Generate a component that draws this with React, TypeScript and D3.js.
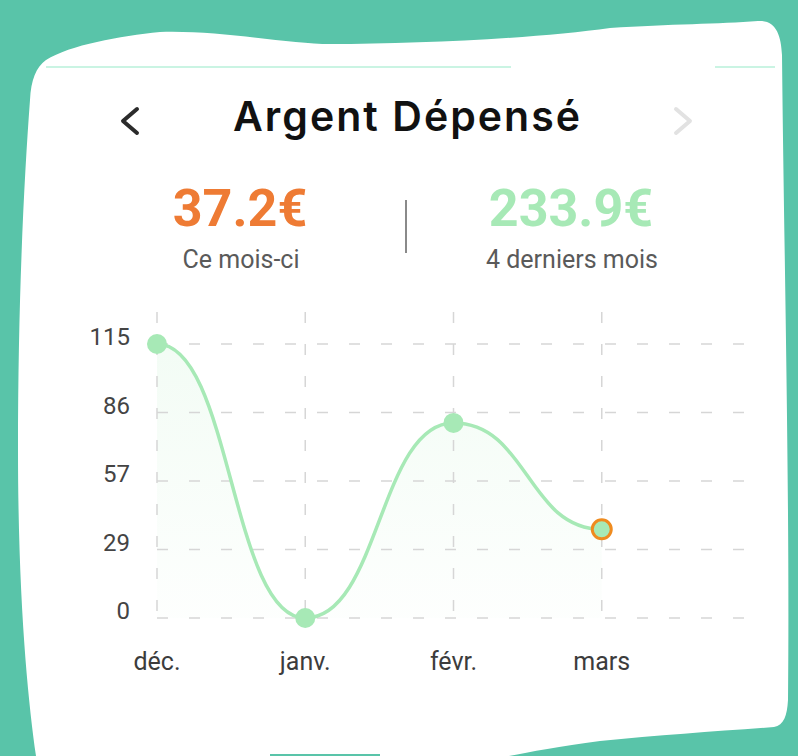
import * as d3 from 'd3';
import React, {useEffect} from 'react';

// months shown on the x axis and money spent for each of them
const months = ["déc.", "janv.", "févr.", "mars"];
const spent = [114.9, 0, 81.8, 37.2];
const slotCount = 5; // one empty slot after the last month
const tickCount = 5;

const W = 798;
const H = 756;

const green = "#a7e9b6";
const orange = "#ee7b34";

export default function App() {
  useEffect(() => {
    document.body.style.margin = "0";
  }, []);

  const x = d3.scaleLinear().domain([0, slotCount - 1]).range([157, 750]);
  const yMax = d3.max(spent) || 1;
  const y = d3.scaleLinear().domain([0, yMax]).range([618, 344]);
  const yTicks = d3.range(tickCount).map(i => (yMax * i) / (tickCount - 1));

  const line = d3.line<number>()
    .x((_, i) => x(i))
    .y(d => y(d))
    .curve(d3.curveBumpX);

  const area = d3.area<number>()
    .x((_, i) => x(i))
    .y0(y(0))
    .y1(d => y(d))
    .curve(d3.curveBumpX);

  const current = spent[spent.length - 1];
  const total = d3.sum(spent);

  // wavy card outline
  const card = "M46,60 C70,45 120,36 160,32 C220,30 290,44 330,44 C420,44 540,38 610,28 C670,24 720,24 758,21 C776,20 781,35 782,55 C784,250 790,500 788,700 C787,716 784,725 774,727 C720,731 660,735 600,741 C560,746 530,752 509,756 L36,756 C28,700 18,600 18,450 C18,300 24,180 30,100 C31,80 36,67 46,60 Z";

  return (
    <svg width={W} height={H} style={{position: "absolute", top: 0, left: 0, display: "block"}}>
      <defs>
        <linearGradient id="areaFill" x1="0" y1="0" x2="0" y2="1">
          <stop offset="0%" stopColor={green} stopOpacity={0.14} />
          <stop offset="100%" stopColor={green} stopOpacity={0.02} />
        </linearGradient>
      </defs>
      <rect width={W} height={H} fill="#59c4a9" />
      <path d={card} fill="#ffffff" />
      <rect x={270} y={754} width={110} height={2} fill="#59c4a9" />
      <line x1={46} x2={511} y1={67} y2={67} stroke="#b9f0da" strokeWidth={1.5} />
      <line x1={715} x2={775} y1={67} y2={67} stroke="#b9f0da" strokeWidth={1.5} />

      {/* header */}
      <path d="M137,109 L123,121 L137,133" fill="none" stroke="#2b2b2b" strokeWidth={4} strokeLinecap="round" strokeLinejoin="round" />
      <path d="M676,109 L690,121 L676,133" fill="none" stroke="#e2e2e2" strokeWidth={4} strokeLinecap="round" strokeLinejoin="round" />
      <text x={233} y={131} fontFamily="Inter" fontWeight={600} fontSize={41} fill="#111"
            textLength={347} lengthAdjust="spacing">Argent Dépensé</text>

      <text x={240} y={226} textAnchor="middle" fontFamily="Roboto" fontWeight={700} fontSize={52} fill={orange}>
        {current.toFixed(1)}€
      </text>
      <text x={241} y={268} textAnchor="middle" fontFamily="Roboto" fontSize={25} fill="#5a5a5a">Ce mois-ci</text>
      <line x1={406} x2={406} y1={200} y2={253} stroke="#8a8a8a" strokeWidth={2} />
      <text x={571} y={226} textAnchor="middle" fontFamily="Roboto" fontWeight={700} fontSize={52} fill={green}>
        {total.toFixed(1)}€
      </text>
      <text x={572} y={268} textAnchor="middle" fontFamily="Roboto" fontSize={25} fill="#5a5a5a">
        {months.length} derniers mois
      </text>

      {/* area under the curve */}
      <path d={area(spent) || ""} fill="url(#areaFill)" />

      {/* grid */}
      {yTicks.map((t, i) => (
        <line key={"h" + i} x1={x(0)} x2={x(slotCount - 1)} y1={y(t)} y2={y(t)}
              stroke="#d6d6d6" strokeWidth={1.5} strokeDasharray="11 21" />
      ))}
      {months.map((m, i) => (
        <line key={"v" + m} x1={x(i)} x2={x(i)} y1={312} y2={y(0)}
              stroke="#d6d6d6" strokeWidth={1.5} strokeDasharray="11 21" />
      ))}

      {/* y tick labels */}
      {yTicks.map((t, i) => (
        <text key={"yl" + i} x={130} y={y(t) - 7} dy="0.35em" textAnchor="end"
              fontFamily="Roboto" fontSize={24} fill="#444">{Math.round(t)}</text>
      ))}

      {/* x labels */}
      {months.map((m, i) => (
        <text key={"xl" + m} x={x(i)} y={670} textAnchor="middle"
              fontFamily="Roboto" fontSize={25} fill="#3c3c3c">{m}</text>
      ))}

      <path d={line(spent) || ""} fill="none" stroke={green} strokeWidth={3.5} />

      {spent.map((v, i) => {
        const last = i === spent.length - 1;
        return (
          <circle key={"c" + i} cx={x(i)} cy={y(v)} r={last ? 9.5 : 10}
                  fill={green} stroke={last ? "#ef8b1f" : "none"} strokeWidth={last ? 3 : 0} />
        );
      })}
    </svg>
  );
}
